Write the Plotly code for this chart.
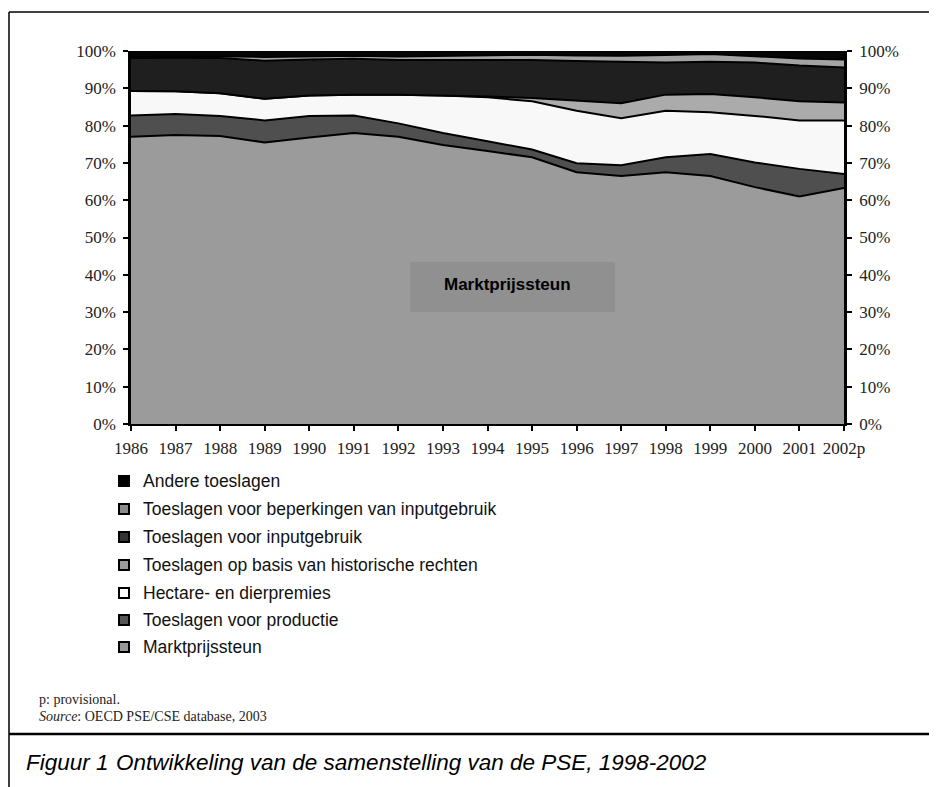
import plotly.graph_objects as go

years = [1986, 1987, 1988, 1989, 1990, 1991, 1992, 1993, 1994, 1995, 1996, 1997, 1998, 1999, 2000, 2001, 2002]
year_labels = ["1986", "1987", "1988", "1989", "1990", "1991", "1992", "1993", "1994", "1995",
               "1996", "1997", "1998", "1999", "2000", "2001", "2002p"]

marktprijssteun = [77.0, 77.5, 77.2, 75.5, 76.8, 78.0, 77.0, 74.8, 73.2, 71.5, 67.5, 66.5, 67.5, 66.5, 63.5, 61.0, 63.3]
productie = [5.7, 5.6, 5.4, 5.9, 5.8, 4.7, 3.6, 3.2, 2.6, 2.1, 2.4, 2.9, 4.0, 5.9, 6.6, 7.4, 3.7]
hectare = [6.6, 6.1, 6.1, 5.8, 5.5, 5.6, 7.7, 10.1, 11.8, 12.9, 14.1, 12.6, 12.5, 11.2, 12.5, 13.0, 14.4]
historisch = [0, 0, 0, 0, 0, 0, 0, 0, 0.2, 0.9, 2.8, 4.0, 4.3, 4.9, 5.0, 5.1, 4.8]
inputgebruik = [8.8, 9.0, 9.4, 10.2, 9.6, 9.6, 9.3, 9.5, 9.9, 10.2, 10.5, 11.1, 8.6, 8.6, 9.3, 9.6, 9.4]
beperkingen = [0.3, 0.3, 0.5, 1.0, 0.8, 0.8, 0.9, 1.1, 1.1, 1.4, 1.5, 1.6, 2.0, 2.1, 1.7, 1.9, 2.1]
andere = [1.6, 1.5, 1.4, 1.6, 1.5, 1.3, 1.5, 1.3, 1.2, 1.0, 1.2, 1.3, 1.1, 0.8, 1.4, 2.0, 2.3]

y_ticks = [0, 10, 20, 30, 40, 50, 60, 70, 80, 90, 100]

series = [
    ("Marktprijssteun", marktprijssteun, "#9b9b9b", "#999999"),
    ("Toeslagen voor productie", productie, "#4f4f4f", "#555555"),
    ("Hectare- en dierpremies", hectare, "#f8f8f8", "#ffffff"),
    ("Toeslagen op basis van historische rechten", historisch, "#ababab", "#9a9a9a"),
    ("Toeslagen voor inputgebruik", inputgebruik, "#1f1f1f", "#333333"),
    ("Toeslagen voor beperkingen van inputgebruik", beperkingen, "#a3a3a3", "#8c8c8c"),
    ("Andere toeslagen", andere, "#050505", "#000000"),
]

fig = go.Figure()
for name, vals, fc, _ in series:
    fig.add_trace(go.Scatter(
        x=years, y=vals, name=name, mode="lines", stackgroup="pse", groupnorm="percent",
        fillcolor=fc, line=dict(color="black", width=2), showlegend=False, hoverinfo="skip",
    ))

# page offset introduced by the default body margin
OFF = 8
# Plot area geometry (page pixels)
L, R, T, B = 131, 844, 51, 424
W, H = 937 - OFF, 787 - OFF
PW, PH = R - L, B - T


def px(x):
    return (x - L) / PW


def py(y):
    return (B - y) / PH


serif = "Liberation Serif, Times New Roman, serif"
sans = "Liberation Sans, Arial, sans-serif"

axis_common = dict(
    range=[0, 100], tickvals=y_ticks, ticktext=[f"{v}%" for v in y_ticks],
    showgrid=False, zeroline=False, showline=True, linecolor="black", linewidth=2.5,
    ticks="outside", ticklen=5, tickwidth=1.5, tickcolor="black",
    tickfont=dict(family=serif, size=17, color="#222"), ticklabelstandoff=4, fixedrange=True,
)

fig.update_layout(
    width=W, height=H,
    margin=dict(l=L - OFF, r=W - (R - OFF), t=T - OFF, b=H - (B - OFF)),
    paper_bgcolor="white", plot_bgcolor="white",
    showlegend=False,
    xaxis=dict(
        range=[years[0], years[-1]], tickvals=years, ticktext=year_labels,
        showgrid=False, zeroline=False, showline=True, linecolor="black", linewidth=2,
        ticks="outside", ticklen=5, tickwidth=1.5, tickcolor="black",
        tickfont=dict(family=serif, size=17, color="#222"), ticklabelstandoff=3,
    ),
    yaxis=dict(side="left", **axis_common),
    yaxis2=dict(side="right", overlaying="y", anchor="x", **axis_common),
)

# helper trace so the right axis is drawn
fig.add_trace(go.Scatter(x=[years[0]], y=[0], yaxis="y2", mode="markers",
                         marker=dict(size=0.1, opacity=0), showlegend=False, hoverinfo="skip"))

shapes = []
annotations = []

# label box inside chart
shapes.append(dict(type="rect", xref="paper", yref="paper", x0=px(410), x1=px(615), y0=py(312), y1=py(262),
                   fillcolor="#909090", line=dict(width=0), layer="above"))
annotations.append(dict(xref="paper", yref="paper", x=px(507), y=py(284), text="<b>Marktprijssteun</b>",
                        showarrow=False, font=dict(family=sans, size=17, color="black"),
                        xanchor="center", yanchor="middle"))

# legend (reverse stacking order)
row_y = [481, 509, 537, 565, 593, 620, 647]
for (name, _, _, lc), yy in zip(reversed(series), row_y):
    shapes.append(dict(type="rect", xref="paper", yref="paper", x0=px(119), x1=px(129), y0=py(yy + 5), y1=py(yy - 5),
                       fillcolor=lc, line=dict(color="black", width=2)))
    annotations.append(dict(xref="paper", yref="paper", x=px(141), y=py(yy), text=name, showarrow=False,
                            font=dict(family=sans, size=17.5, color="#111"), xanchor="left", yanchor="middle"))

# footnotes
annotations.append(dict(xref="paper", yref="paper", x=px(37), y=py(699), text="p: provisional.", showarrow=False,
                        font=dict(family=serif, size=14, color="#222"), xanchor="left", yanchor="middle"))
annotations.append(dict(xref="paper", yref="paper", x=px(37), y=py(716),
                        text="<i>Source</i>: OECD PSE/CSE database, 2003", showarrow=False,
                        font=dict(family=serif, size=14, color="#222"), xanchor="left", yanchor="middle"))

# caption
cap_font = dict(family="Liberation Sans Narrow, Liberation Sans, Arial, sans-serif", size=22.5, color="black")
annotations.append(dict(xref="paper", yref="paper", x=px(24), y=py(762), text="<i>Figuur 1</i>", showarrow=False,
                        font=cap_font, xanchor="left", yanchor="middle"))
annotations.append(dict(xref="paper", yref="paper", x=px(114), y=py(762),
                        text="<i>Ontwikkeling van de samenstelling van de PSE, 1998-2002</i>", showarrow=False,
                        font=cap_font, xanchor="left", yanchor="middle"))

# frame lines
shapes.append(dict(type="line", xref="paper", yref="paper", x0=px(9), x1=px(940), y0=py(12), y1=py(12),
                   line=dict(color="black", width=1.5)))
shapes.append(dict(type="line", xref="paper", yref="paper", x0=px(9), x1=px(9), y0=py(12), y1=py(790),
                   line=dict(color="black", width=1.5)))
shapes.append(dict(type="line", xref="paper", yref="paper", x0=px(9), x1=px(940), y0=py(734), y1=py(734),
                   line=dict(color="black", width=2.5)))

fig.update_layout(shapes=shapes, annotations=annotations)
fig.write_html("out.html")
